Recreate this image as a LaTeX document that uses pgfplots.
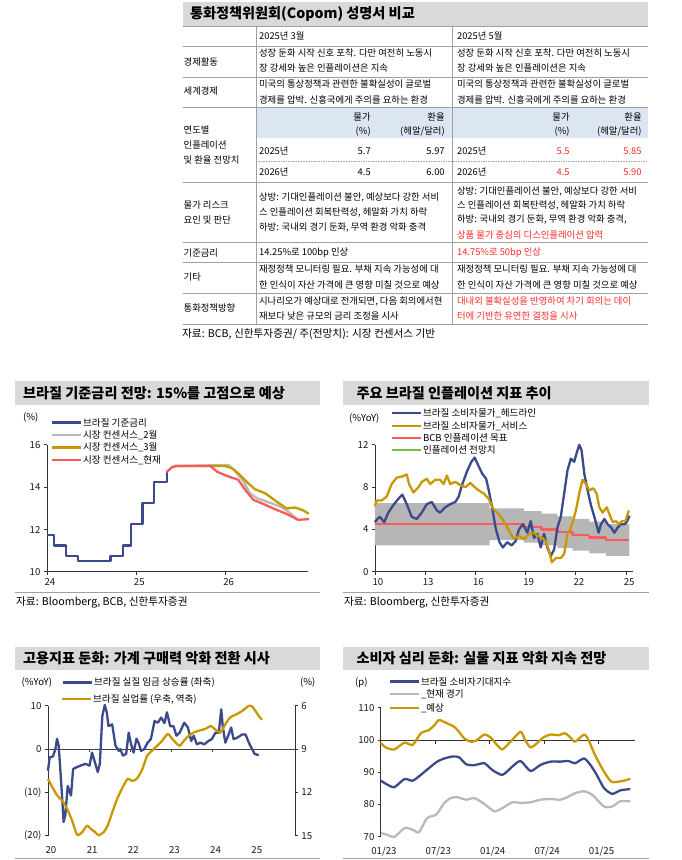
\documentclass[border=0pt]{standalone}
\usepackage{fontspec}
\setmainfont{Noto Sans CJK KR}
\usepackage{pgfplots}
\pgfplotsset{compat=1.18}
\usepgfplotslibrary{fillbetween}
\definecolor{navy}{RGB}{59,74,140}
\definecolor{gold}{RGB}{201,151,0}
\definecolor{salmon}{RGB}{255,90,90}
\definecolor{lgray}{RGB}{185,185,185}
\definecolor{bandc}{RGB}{182,182,182}
\definecolor{titlebg}{RGB}{217,217,217}
\definecolor{hdrblue}{RGB}{220,230,242}
\definecolor{rulec}{RGB}{160,160,160}
\definecolor{redtxt}{RGB}{255,40,40}
\definecolor{lgreen}{RGB}{122,193,67}
\newcommand\ft{\fontsize{9.4}{11}\selectfont}
\newcommand\fl{\fontsize{9.6}{11}\selectfont}
\newcommand\fs{\fontsize{10.7}{12}\selectfont}
\newcommand\fh{\fontsize{14.2}{16}\selectfont\bfseries}
\newcommand\T[3]{\node[anchor=west,inner sep=0] at (#1,#2) {\ft #3};}
\newcommand\R[3]{\node[anchor=east,inner sep=0] at (#1,#2) {\ft #3};}
\newcommand\Lg[4]{\draw[#4,line width=2.5bp] (#1,#2) -- ++(29,0); \node[anchor=west,inner sep=0] at (#1+31,#2) {\fl #3};}
\pgfplotsset{base/.style={scale only axis, anchor=south west, tick align=outside, major tick length=3bp,
  axis line style={black!80,line width=0.8bp}, tick style={black!80,line width=0.8bp},
  tick label style={font=\fontsize{9.7}{11}\selectfont, text=black!90},
  /pgf/number format/assume math mode=true, xticklabel style={xshift=3bp}, clip=false},
  ser/.style={line width=2.3bp, line join=round, mark=none}}
\begin{document}
\begin{tikzpicture}
\path (0bp,0bp) rectangle (682bp,-860bp);
\begin{scope}[x=1bp,y=-1bp]
% ---------- table ----------
\fill[titlebg] (183,2) rectangle (648,26);
\node[anchor=west,inner sep=0] at (190,14) {\fh 통화정책위원회(Copom) 성명서 비교};
\fill[hdrblue] (256,107.5) rectangle (648,138);
\foreach \yy in {26,46,77,107.5,182,242.5,262,293.3,324} \draw[rulec,line width=0.8bp] (183,\yy) -- (648,\yy);
\draw[rulec,line width=0.8bp,dash pattern=on 1.5bp off 1bp] (256,161.5) -- (648,161.5);
\draw[rulec,line width=0.8bp] (256,26) -- (256,324);
\draw[rulec,line width=0.8bp] (453,26) -- (453,324);
\T{259}{36}{2025년 3월}
\T{457}{36}{2025년 5월}
\T{183.5}{61.5}{경제활동}
\T{259}{53}{성장 둔화 시작 신호 포착. 다만 여전히 노동시}
\T{259}{68.5}{장 강세와 높은 인플레이션은 지속}
\T{457}{53}{성장 둔화 시작 신호 포착. 다만 여전히 노동시}
\T{457}{68.5}{장 강세와 높은 인플레이션은 지속}
\T{183.5}{91}{세계경제}
\T{259}{84}{미국의 통상정책과 관련한 불확실성이 글로벌}
\T{259}{99.5}{경제를 압박. 신흥국에게 주의를 요하는 환경}
\T{457}{84}{미국의 통상정책과 관련한 불확실성이 글로벌}
\T{457}{99.5}{경제를 압박. 신흥국에게 주의를 요하는 환경}
\T{183.5}{130}{연도별}
\T{183.5}{145.5}{인플레이션}
\T{183.5}{160.5}{및 환율 전망치}
\R{371}{117}{물가}
\R{371}{131.5}{(\%)}
\R{445}{117}{환율}
\R{445}{131.5}{(헤알/달러)}
\R{570}{117}{물가}
\R{570}{131.5}{(\%)}
\R{642}{117}{환율}
\R{642}{131.5}{(헤알/달러)}
\T{259}{151}{2025년}
\R{371}{151}{5.7}
\R{445}{151}{5.97}
\T{457}{151}{2025년}
\R{570}{151}{\color{redtxt}5.5}
\R{642}{151}{\color{redtxt}5.85}
\T{259}{172}{2026년}
\R{371}{172}{4.5}
\R{445}{172}{6.00}
\T{457}{172}{2026년}
\R{570}{172}{\color{redtxt}4.5}
\R{642}{172}{\color{redtxt}5.90}
\T{183.5}{205}{물가 리스크}
\T{183.5}{220}{요인 및 판단}
\T{259}{197.3}{상방: 기대인플레이션 불안, 예상보다 강한 서비}
\T{259}{212.5}{스 인플레이션 회복탄력성, 헤알화 가치 하락}
\T{259}{228}{하방: 국내외 경기 둔화, 무역 환경 악화 충격}
\T{457}{191.5}{상방: 기대인플레이션 불안, 예상보다 강한 서비}
\T{457}{205.5}{스 인플레이션 회복탄력성, 헤알화 가치 하락}
\T{457}{220}{하방: 국내외 경기 둔화, 무역 환경 악화 충격,}
\T{457}{235}{\color{redtxt}상품 물가 중심의 디스인플레이션 압력}
\T{183.5}{253}{기준금리}
\T{259}{253}{14.25\%로 100bp 인상}
\T{457}{253}{\color{redtxt}14.75\%로 50bp 인상}
\T{183.5}{277}{기타}
\T{259}{269.5}{재정정책 모니터링 필요. 부채 지속 가능성에 대}
\T{259}{285}{한 인식이 자산 가격에 큰 영향 미칠 것으로 예상}
\T{457}{269.5}{재정정책 모니터링 필요. 부채 지속 가능성에 대}
\T{457}{285}{한 인식이 자산 가격에 큰 영향 미칠 것으로 예상}
\T{183.5}{308.3}{통화정책방향}
\T{259}{301.5}{시나리오가 예상대로 전개되면, 다음 회의에서현}
\T{259}{316.5}{재보다 낮은 규모의 금리 조정을 시사}
\T{457}{301.5}{\color{redtxt}대내외 불확실성을 반영하여 차기 회의는 데이}
\T{457}{316.5}{\color{redtxt}터에 기반한 유연한 결정을 시사}
\node[anchor=west,inner sep=0] at (182,334.5) {\fs 자료: BCB, 신한투자증권/ 주(전망치): 시장 컨센서스 기반};
% ---------- chart frames ----------
\fill[titlebg] (15,381) rectangle (320,405);
\node[anchor=west,inner sep=0] at (23,393) {\fh 브라질 기준금리 전망: 15\%를 고점으로 예상};
\fill[titlebg] (343,381) rectangle (649,405);
\node[anchor=west,inner sep=0] at (356.5,393) {\fh 주요 브라질 인플레이션 지표 추이};
\fill[titlebg] (15,647) rectangle (320,670);
\node[anchor=west,inner sep=0] at (23,658.5) {\fh 고용지표 둔화: 가계 구매력 악화 전환 시사};
\fill[titlebg] (343,647) rectangle (649,670);
\node[anchor=west,inner sep=0] at (356.5,658.5) {\fh 소비자 심리 둔화: 실물 지표 악화 지속 전망};
\draw[rulec,line width=0.8bp] (15,593) -- (320,593);
\draw[rulec,line width=0.8bp] (343,593) -- (649,593);
\draw[rulec,line width=0.8bp] (15,858.5) -- (320,858.5);
\draw[rulec,line width=0.8bp] (343,858.5) -- (649,858.5);
\node[anchor=west,inner sep=0] at (16,603) {\fs 자료: Bloomberg, BCB, 신한투자증권};
\node[anchor=west,inner sep=0] at (344,603) {\fs 자료: Bloomberg, 신한투자증권};
% legends
\node[anchor=west,inner sep=0] at (23,417.7) {\fl (\%)};
\Lg{52}{422.7}{브라질 기준금리}{navy}
\Lg{52}{435}{시장 컨센서스\_2월}{lgray}
\Lg{52}{447.7}{시장 컨센서스\_3월}{gold}
\Lg{52}{460}{시장 컨센서스\_현재}{salmon}
\node[anchor=west,inner sep=0] at (349,418.3) {\fl (\%YoY)};
\Lg{392}{413.3}{브라질 소비자물가\_헤드라인}{navy}
\Lg{392}{426}{브라질 소비자물가\_서비스}{gold}
\Lg{392}{438.3}{BCB 인플레이션 목표}{salmon}
\Lg{392}{450}{인플레이션 전망치}{lgreen}
\node[anchor=west,inner sep=0] at (21.5,682.7) {\fl (\%YoY)};
\node[anchor=west,inner sep=0] at (300,682.7) {\fl (\%)};
\Lg{63}{682.7}{브라질 실질 임금 상승률 (좌축)}{navy}
\Lg{62}{699.3}{브라질 실업률 (우축, 역축)}{gold}
\node[anchor=west,inner sep=0] at (355,682.7) {\fl (p)};
\Lg{390}{681.7}{브라질 소비자기대지수}{navy}
\Lg{390}{694.3}{\_현재 경기}{lgray}
\Lg{390}{708.3}{\_예상}{gold}
\end{scope}
% ---------- chart 1 ----------
\begin{axis}[base, at={(47bp,-572bp)}, width=261bp, height=127bp,
  xmin=24, xmax=26.92, ymin=10, ymax=16, xtick={24,25,26}, ytick={10,12,14,16},
  axis x line*=bottom, axis y line*=left]
\addplot[ser, navy, const plot] coordinates {(24.0,11.75)(24.08,11.25)(24.21,10.75)(24.35,10.5)(24.71,10.75)(24.85,11.25)(24.94,12.25)(25.07,13.25)(25.2,14.25)(25.34,14.75)};
\addplot[ser, lgray] coordinates {(25.42,15)(26.03,15.05)(26.1,14.79)(26.2,14.27)(26.27,13.72)(26.35,13.48)(26.46,13.32)(26.61,13.09)(26.7,12.85)(26.8,12.49)};
\addplot[ser, gold] coordinates {(25.42,15)(25.99,15)(26.07,14.9)(26.16,14.58)(26.25,14.19)(26.33,13.9)(26.44,13.72)(26.57,13.32)(26.68,13.0)(26.78,13.04)(26.87,12.9)(26.93,12.74)};
\addplot[ser, salmon] coordinates {(25.34,14.72)(25.40,14.95)(25.45,15.0)(25.83,15.0)(25.9,14.74)(26.01,14.54)(26.14,14.35)(26.22,13.87)(26.31,13.4)(26.42,13.21)(26.53,13.0)(26.68,12.74)(26.81,12.46)(26.93,12.49)};
\end{axis}
% ---------- chart 2 ----------
\begin{axis}[base, at={(375bp,-572bp)}, width=258bp, height=127bp,
  xmin=10, xmax=25.4, ymin=0, ymax=12, xtick={10,13,16,19,22,25}, ytick={0,4,8,12},
  axis x line*=bottom, axis y line*=left]
\addplot[draw=none, name path=top, const plot] coordinates {(10,6.5)(16.85,6.0)(18.9,5.75)(19.95,5.5)(20.9,5.25)(21.8,5.0)(22.8,4.75)(23.8,4.5)(25.2,4.5)};
\addplot[draw=none, name path=bot, const plot] coordinates {(10,2.5)(16.85,3.0)(18.9,2.75)(19.95,2.5)(20.9,2.25)(21.8,2.0)(22.8,1.75)(23.8,1.5)(25.2,1.5)};
\addplot[bandc] fill between[of=top and bot];
\addplot[ser, salmon, const plot] coordinates {(10,4.5)(18.9,4.25)(19.95,4.0)(20.9,3.75)(21.8,3.5)(22.8,3.25)(23.8,3.0)(25.2,3.0)};
\addplot[ser, navy] coordinates {(10.0,4.7)(10.15,5.0)(10.3,5.2)(10.45,4.9)(10.56,4.7)(10.8,5.6)(11.1,6.3)(11.4,6.9)(11.64,7.3)(11.9,6.4)(12.2,5.2)(12.5,5.0)(12.8,5.6)(13.1,6.4)(13.4,6.6)(13.7,5.8)(13.9,5.6)(14.2,6.1)(14.5,6.4)(14.8,6.6)(15.0,7.1)(15.2,8.2)(15.5,9.5)(15.76,10.4)(15.96,10.8)(16.16,10.1)(16.4,9.3)(16.64,8.8)(16.8,7.7)(17.0,6.1)(17.2,4.2)(17.44,2.8)(17.64,2.3)(17.9,2.8)(18.16,2.5)(18.4,2.9)(18.6,4.0)(18.84,4.5)(19.1,3.7)(19.3,4.8)(19.5,3.2)(19.7,3.6)(19.9,2.3)(20.1,3.6)(20.3,2.3)(20.5,1.5)(20.7,2.1)(20.9,4.2)(21.1,5.2)(21.3,7.4)(21.5,9.6)(21.7,10.7)(21.9,10.4)(22.04,11.2)(22.2,12.0)(22.34,11.5)(22.5,9.3)(22.7,7.7)(22.9,6.3)(23.1,5.2)(23.36,3.7)(23.5,4.5)(23.7,5.0)(23.9,4.5)(24.1,4.2)(24.3,3.7)(24.5,4.2)(24.7,4.5)(24.9,4.5)(25.04,4.7)(25.2,5.3)};
\addplot[ser, gold] coordinates {(10.0,6.2)(10.1,6.75)(10.4,6.75)(10.7,7.1)(11.0,8.3)(11.3,8.9)(11.6,9.0)(11.9,9.2)(12.04,8.3)(12.3,7.5)(12.6,8.0)(12.8,8.5)(13.1,8.8)(13.3,8.3)(13.6,8.7)(13.9,8.7)(14.1,8.3)(14.3,9.1)(14.5,8.3)(14.8,8.5)(15.1,8.2)(15.4,8.0)(15.7,8.4)(15.96,8.0)(16.2,7.7)(16.5,7.4)(16.8,6.9)(17.04,6.0)(17.3,5.6)(17.6,5.0)(17.8,4.5)(18.0,3.9)(18.3,3.1)(18.6,3.4)(18.9,3.1)(19.2,3.6)(19.5,3.7)(19.7,3.4)(20.0,3.2)(20.2,2.9)(20.4,2.0)(20.56,0.9)(20.8,1.3)(21.1,1.3)(21.3,1.7)(21.5,3.6)(21.66,4.0)(21.84,4.8)(22.04,6.1)(22.24,7.7)(22.4,8.7)(22.6,8.3)(22.8,7.7)(23.04,7.9)(23.24,7.4)(23.4,6.1)(23.6,5.6)(23.84,6.1)(24.04,5.3)(24.2,4.7)(24.4,4.8)(24.56,4.5)(24.76,4.8)(24.96,4.8)(25.16,5.8)};
\end{axis}
% ---------- chart 3 ----------
\begin{axis}[base, at={(48bp,-836bp)}, width=247bp, height=130bp,
  xmin=20, xmax=26, ymin=-20, ymax=10, xtick={20,21,22,23,24,25}, ytick={-20,-10,0,10},
  yticklabels={(20),(10),0,10}, axis x line*=bottom, axis y line*=left,
  x axis line style={draw=none}, xtick style={draw=none}, xticklabel style={yshift=-4bp}]
\draw[black!75,line width=1.1bp] (axis cs:20,0) -- (axis cs:26,0);
\draw[black!75,line width=0.8bp] (axis cs:21,0) -- ([yshift=-3bp]axis cs:21,0);
\draw[black!75,line width=0.8bp] (axis cs:22,0) -- ([yshift=-3bp]axis cs:22,0);
\draw[black!75,line width=0.8bp] (axis cs:23,0) -- ([yshift=-3bp]axis cs:23,0);
\draw[black!75,line width=0.8bp] (axis cs:24,0) -- ([yshift=-3bp]axis cs:24,0);
\draw[black!75,line width=0.8bp] (axis cs:25,0) -- ([yshift=-3bp]axis cs:25,0);
\addplot[ser, navy] coordinates {(20.0,-5.0)(20.04,-1.9)(20.12,-1.7)(20.18,0)(20.22,2.4)(20.26,0.8)(20.32,-7.6)(20.38,-16.8)(20.42,-15.3)(20.48,-8.5)(20.56,-10.7)(20.61,-4.6)(20.69,-4.2)(20.79,-3.8)(20.91,-3.4)(21.01,-3.8)(21.07,-0.8)(21.13,-2.7)(21.21,-5.3)(21.26,-3.4)(21.32,7.6)(21.38,10.2)(21.43,8.4)(21.47,5.3)(21.56,5.7)(21.64,0.8)(21.72,-0.4)(21.76,0)(21.82,-1.5)(21.9,-1.1)(21.96,3.8)(22.02,1.1)(22.08,-0.8)(22.15,2.4)(22.2,1.5)(22.26,-0.4)(22.34,0)(22.42,1.5)(22.5,2.3)(22.59,6.5)(22.67,6.1)(22.75,7.3)(22.83,6.0)(22.89,8.5)(22.97,5.3)(23.05,5.3)(23.12,3.1)(23.2,3.8)(23.31,6.1)(23.4,5.0)(23.48,1.9)(23.54,3.1)(23.62,1.1)(23.7,1.5)(23.8,1.1)(23.9,1.9)(23.98,2.3)(24.07,3.8)(24.15,3.8)(24.21,9.2)(24.25,5.0)(24.31,1.5)(24.39,3.4)(24.45,5.0)(24.51,2.3)(24.61,2.7)(24.72,3.4)(24.8,3.4)(24.88,1.5)(24.96,0)(25.02,-1.1)(25.12,-1.4)};
\end{axis}
\begin{axis}[base, at={(48bp,-836bp)}, width=247bp, height=130bp,
  xmin=20, xmax=26, ymin=6, ymax=15, y dir=reverse, ytick={6,9,12,15},
  axis x line=none, axis y line*=right]
\addplot[ser, gold, smooth, tension=0.4] coordinates {(20.0,11.07)(20.1,11.6)(20.22,12.2)(20.34,12.55)(20.46,13.1)(20.58,13.9)(20.66,14.6)(20.72,14.97)(20.83,14.75)(20.95,14.3)(21.05,14.55)(21.15,14.75)(21.23,14.97)(21.35,14.75)(21.45,14.3)(21.56,13.4)(21.68,12.45)(21.84,11.5)(21.94,11.05)(22.04,11.2)(22.16,11.05)(22.29,10.4)(22.41,9.45)(22.53,9.1)(22.65,8.77)(22.77,8.43)(22.91,7.95)(23.01,8.26)(23.1,8.54)(23.2,8.77)(23.3,8.43)(23.42,8.08)(23.54,7.85)(23.7,7.7)(23.82,7.6)(23.96,7.4)(24.07,7.66)(24.19,7.85)(24.31,7.27)(24.43,6.8)(24.59,6.57)(24.72,6.35)(24.88,6.0)(24.96,6.05)(25.04,6.35)(25.12,6.7)(25.2,6.97)};
\end{axis}
% ---------- chart 4 ----------
\begin{axis}[base, at={(381bp,-837bp)}, width=254bp, height=129bp,
  xmin=0, xmax=28, ymin=70, ymax=110, ytick={70,80,90,100,110},
  xtick={0,6,12,18,24}, xticklabels={01/23,07/23,01/24,07/24,01/25},
  axis x line*=bottom, axis y line*=left,
  x axis line style={draw=none}, xtick style={draw=none}, xticklabel style={yshift=-4bp}]
\draw[black!80,line width=1.1bp] (axis cs:0,100) -- (axis cs:28,100);
\draw[black!80,line width=0.8bp] (axis cs:6,100) -- ([yshift=-3.5bp]axis cs:6,100);
\draw[black!80,line width=0.8bp] (axis cs:12,100) -- ([yshift=-3.5bp]axis cs:12,100);
\draw[black!80,line width=0.8bp] (axis cs:18,100) -- ([yshift=-3.5bp]axis cs:18,100);
\draw[black!80,line width=0.8bp] (axis cs:24,100) -- ([yshift=-3.5bp]axis cs:24,100);
\addplot[ser, lgray, smooth, tension=0.4] coordinates {(0,71.2)(0.6,70.7)(1.5,70.0)(2.6,72.7)(3.5,72.2)(4.2,71.4)(5.1,75.8)(6.1,76.9)(7.0,80.5)(7.7,82.0)(8.4,82.3)(9.4,81.5)(10.3,82.0)(11.4,80.2)(12.5,77.9)(13.4,78.9)(14.5,80.7)(15.4,80.5)(16.5,80.7)(17.6,81.5)(18.7,81.7)(19.8,81.5)(20.5,82.2)(21.4,83.5)(22.4,84.1)(23.3,83.0)(24.6,79.4)(25.5,79.4)(26.4,81.0)(27.5,81.0)};
\addplot[ser, navy, smooth, tension=0.4] coordinates {(0,87.4)(0.75,86.1)(1.5,85.4)(2.6,87.9)(3.5,87.4)(4.4,89.2)(5.3,91.3)(6.2,93.3)(7.0,94.3)(7.9,94.9)(8.6,94.7)(9.4,92.5)(10.3,92.2)(11.4,92.8)(12.3,90.7)(13.4,89.2)(14.5,91.8)(15.4,93.5)(16.5,90.4)(17.6,92.3)(18.7,93.3)(19.8,93.3)(20.7,93.5)(21.4,92.8)(22.4,94.3)(23.1,92.3)(23.8,89.2)(24.6,85.1)(25.5,83.3)(26.4,84.4)(27.5,84.8)};
\addplot[ser, gold, smooth, tension=0.4] coordinates {(0,99.0)(0.6,97.6)(1.5,97.1)(2.6,99.2)(3.5,98.5)(4.4,102.1)(5.3,103.1)(5.9,104.6)(6.4,106.2)(7.2,105.3)(8.1,104.1)(8.6,102.6)(9.2,100.5)(9.9,99.5)(10.5,99.8)(11.4,101.7)(12.1,100.8)(12.8,98.5)(13.4,97.1)(14.3,99.5)(15.4,102.6)(15.9,100)(16.5,97.7)(17.2,99.0)(17.9,100.8)(18.7,101.7)(19.6,101.5)(20.3,102.1)(20.9,100.8)(21.4,99.5)(22.4,101.7)(22.9,100)(23.6,95.4)(24.6,90.2)(25.4,87.1)(26.2,87.1)(26.8,87.4)(27.5,88.0)};
\end{axis}
\end{tikzpicture}
\end{document}
